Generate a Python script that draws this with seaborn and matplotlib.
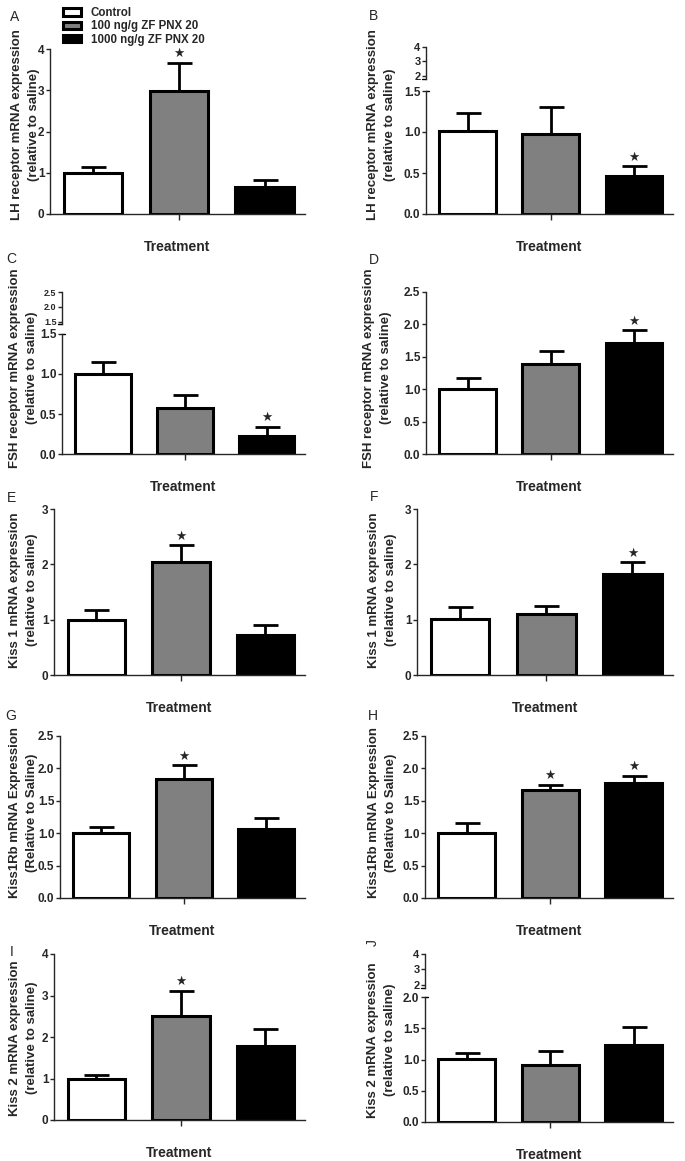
import numpy as np
import pandas as pd
import matplotlib
matplotlib.use("Agg")
import matplotlib.pyplot as plt
import seaborn as sns
from matplotlib.ticker import FormatStrFormatter

# Grupos de tratamiento
groups = ["Control", "100 ng/g ZF PNX 20", "1000 ng/g ZF PNX 20"]
colors = ["white", "#808080", "black"]

# Valores (media y error estandar)
lhr_a_mean = [1.00, 2.97, 0.65]
lhr_a_sem = [0.15, 0.70, 0.18]
lhr_b_mean = [1.01, 0.98, 0.46]
lhr_b_sem = [0.22, 0.33, 0.12]
fshr_c_mean = [1.00, 0.58, 0.22]
fshr_c_sem = [0.15, 0.16, 0.12]
fshr_d_mean = [1.00, 1.39, 1.72]
fshr_d_sem = [0.17, 0.20, 0.19]
kiss1_e_mean = [1.00, 2.05, 0.72]
kiss1_e_sem = [0.18, 0.30, 0.18]
kiss1_f_mean = [1.01, 1.11, 1.82]
kiss1_f_sem = [0.22, 0.14, 0.22]
kiss1rb_g_mean = [1.01, 1.83, 1.07]
kiss1rb_g_sem = [0.09, 0.22, 0.16]
kiss1rb_h_mean = [1.00, 1.66, 1.78]
kiss1rb_h_sem = [0.15, 0.09, 0.11]
kiss2_i_mean = [1.00, 2.50, 1.79]
kiss2_i_sem = [0.09, 0.61, 0.41]
kiss2_j_mean = [1.01, 0.91, 1.23]
kiss2_j_sem = [0.09, 0.23, 0.29]

# Asteriscos de significancia
stars_a = [0, 1, 0]
stars_b = [0, 0, 1]
stars_c = [0, 0, 1]
stars_d = [0, 0, 1]
stars_e = [0, 1, 0]
stars_f = [0, 0, 1]
stars_g = [0, 1, 0]
stars_h = [0, 1, 1]
stars_i = [0, 1, 0]
stars_j = [0, 0, 0]

lbl_lh = "LH receptor mRNA expression\n(relative to saline)"
lbl_fsh = "FSH receptor mRNA expression\n(relative to saline)"
lbl_k1 = "Kiss 1 mRNA expression\n(relative to saline)"
lbl_k1rb = "Kiss1Rb mRNA Expression\n(Relative to Saline)"
lbl_k2 = "Kiss 2 mRNA expression\n(relative to saline)"

sns.set_style("ticks")
plt.rcParams["font.family"] = ["Liberation Sans", "DejaVu Sans"]

W, H = 685, 1161
fig = plt.figure(figsize=(W / 100, H / 100), dpi=100)


def px_axes(l, t, r, b):
    return fig.add_axes([l / W, 1 - b / H, (r - l) / W, (b - t) / H])


# letra, media, sem, estrellas, etiqueta, caja (px), ylim, yticks, formato,
# posicion etiqueta y (px), eje cortado superior, posicion de la letra
panels = [
    ("A", lhr_a_mean, lhr_a_sem, stars_a, lbl_lh, (50, 49, 305, 214), (0, 4), [0, 1, 2, 3, 4], "%d", (40, 125), None, (15, 17)),
    ("B", lhr_b_mean, lhr_b_sem, stars_b, lbl_lh, (426, 91, 673, 214), (0, 1.5), [0, 0.5, 1.0, 1.5], "%.1f", (396, 125),
     ((426, 47, 673, 79), (1.79, 4), [2, 3, 4], "%d"), (373, 16)),
    ("C", fshr_c_mean, fshr_c_sem, stars_c, lbl_fsh, (62, 334, 305, 454), (0, 1.5), [0, 0.5, 1.0, 1.5], "%.1f", (38, 368),
     ((62, 292, 305, 324), (1.43, 2.5), [1.5, 2.0, 2.5], "%.1f"), (11, 259)),
    ("D", fshr_d_mean, fshr_d_sem, stars_d, lbl_fsh, (426, 292, 673, 454), (0, 2.5), [0, 0.5, 1.0, 1.5, 2.0, 2.5], "%.1f", (392, 368), None, (374, 260)),
    ("E", kiss1_e_mean, kiss1_e_sem, stars_e, lbl_k1, (54, 509, 305, 675), (0, 3), [0, 1, 2, 3], "%d", (38, 590), None, (11, 498)),
    ("F", kiss1_f_mean, kiss1_f_sem, stars_f, lbl_k1, (417, 509, 673, 675), (0, 3), [0, 1, 2, 3], "%d", (397, 590), None, (374, 497)),
    ("G", kiss1rb_g_mean, kiss1rb_g_sem, stars_g, lbl_k1rb, (60, 736, 305, 898), (0, 2.5), [0, 0.5, 1.0, 1.5, 2.0, 2.5], "%.1f", (38, 813), None, (11, 716)),
    ("H", kiss1rb_h_mean, kiss1rb_h_sem, stars_h, lbl_k1rb, (425, 736, 673, 898), (0, 2.5), [0, 0.5, 1.0, 1.5, 2.0, 2.5], "%.1f", (397, 813), None, (373, 716)),
    ("I", kiss2_i_mean, kiss2_i_sem, stars_i, lbl_k2, (54, 954, 305, 1120), (0, 4), [0, 1, 2, 3, 4], "%d", (38, 1038), None, (12, 952)),
    ("J", kiss2_j_mean, kiss2_j_sem, stars_j, lbl_k2, (425, 997, 673, 1122), (0, 2), [0, 0.5, 1.0, 1.5, 2.0], "%.1f", (396, 1040),
     ((425, 954, 673, 988), (1.8, 4), [2, 3, 4], "%d"), (373, 943)),
]

for letter, mean, sem, stars, ylab, box, ylim, yticks, fmt, ylab_px, upper, let_px in panels:
    l, t, r, b = box
    ax = px_axes(l, t, r, b)
    df = pd.DataFrame({"group": groups, "value": mean})
    sns.barplot(data=df, x="group", y="value", hue="group", order=groups, hue_order=groups,
                palette=colors, width=0.68, dodge=False, edgecolor="black", linewidth=2.2,
                errorbar=None, legend=(letter == "A"), ax=ax)
    # barras de error solo hacia arriba
    ax.errorbar(np.arange(3), mean, yerr=[np.zeros(3), sem], fmt="none", ecolor="black",
                elinewidth=2, capsize=9, capthick=2, zorder=5)
    for i, s in enumerate(stars):
        if s:
            ax.annotate("\u2605", (i, mean[i] + sem[i]), xytext=(0, 6.5), textcoords="offset points",
                        ha="center", va="center", fontsize=9, family="DejaVu Sans")
    ax.set_xlim(-0.5, 2.47)
    ax.set_ylim(*ylim)
    ax.set_yticks(yticks)
    ax.yaxis.set_major_formatter(FormatStrFormatter(fmt))
    ax.set_xticks([1])
    ax.set_xticklabels([""])
    sns.despine(ax=ax)
    for sp in ax.spines.values():
        sp.set_linewidth(1)
    ax.tick_params(axis="y", direction="out", length=3, width=1, labelsize=8.5, pad=1)
    ax.tick_params(axis="x", direction="out", length=4, width=1)
    for tl in ax.get_yticklabels():
        tl.set_fontweight("bold")

    wpx, hpx = r - l, b - t
    ax.set_xlabel("Treatment", fontsize=10, fontweight="bold")
    ax.xaxis.set_label_coords(0.5, -26 / hpx)
    ax.set_ylabel(ylab, fontsize=9.5, fontweight="bold", linespacing=1.6)
    ax.yaxis.set_label_coords((ylab_px[0] - l) / wpx, (b - ylab_px[1]) / hpx)

    # eje cortado (parte superior)
    if upper is not None:
        (ul, ut, ur, ub), ulim, uticks, ufmt = upper
        axu = px_axes(ul, ut, ur, ub)
        axu.set_facecolor("none")
        axu.set_ylim(*ulim)
        axu.set_yticks(uticks)
        axu.yaxis.set_major_formatter(FormatStrFormatter(ufmt))
        axu.set_xticks([])
        for side in ["top", "right", "bottom"]:
            axu.spines[side].set_visible(False)
        axu.spines["left"].set_linewidth(1)
        axu.tick_params(axis="y", direction="out", length=3, width=1,
                        labelsize=8 if ufmt == "%d" else 6.5, pad=1)
        for tl in axu.get_yticklabels():
            tl.set_fontweight("bold")
        # marca de corte
        axu.plot([0, -4 / (ur - ul)], [0, 0], transform=axu.transAxes,
                 clip_on=False, color="black", lw=1)
        ax.plot([0, 3 / wpx], [1, 1], transform=ax.transAxes,
                clip_on=False, color="black", lw=1)

    rot = 90 if letter == "J" else 0
    fig.text(let_px[0] / W, 1 - let_px[1] / H, letter, fontsize=10, ha="center", va="center", rotation=rot)

    if letter == "A":
        sns.move_legend(ax, "upper left", bbox_to_anchor=(63 / W, 1 - 7 / H),
                        bbox_transform=fig.transFigure, frameon=False, title=None,
                        prop={"size": 8.3, "weight": "bold"}, handlelength=1.6, handleheight=0.6,
                        labelspacing=0.12, handletextpad=0.8, borderpad=0, borderaxespad=0)

fig.savefig("out.png", dpi=100)
